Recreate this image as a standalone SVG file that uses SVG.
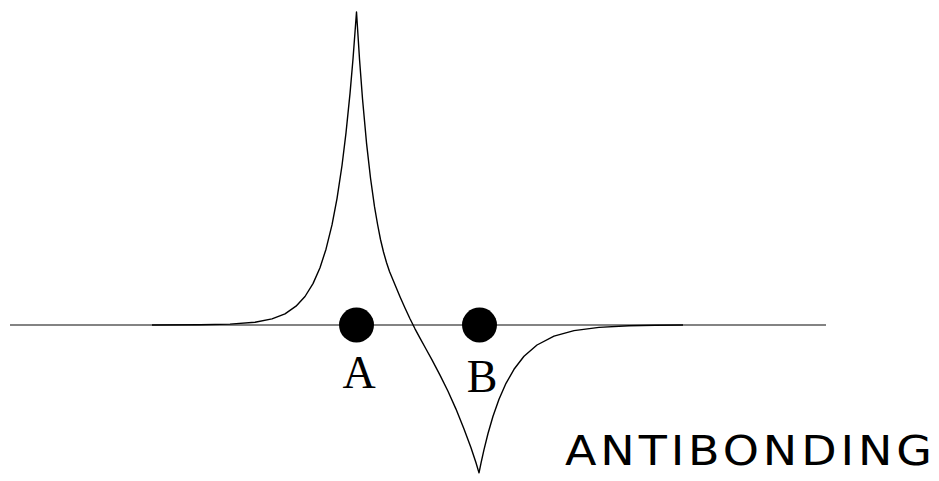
<svg xmlns="http://www.w3.org/2000/svg" width="939" height="481" viewBox="0 0 939 481">
  <style>
    .axis { stroke: #5a5a5a; stroke-width: 1.4; fill: none; }
    .curve { stroke: #000; stroke-width: 1.4; fill: none; stroke-linejoin: round; }
    .dot { fill: #000; }
    .lbl { font-family: "Liberation Serif", "Times New Roman", serif; font-size: 46px; fill: #000; text-anchor: middle; }
    .title { font-family: "DejaVu Sans", "Liberation Sans", sans-serif; font-size: 40px; fill: #000; }
  </style>
  <rect width="939" height="481" fill="#fff"/>
  <g id="axis">
    <line class="axis" x1="10" y1="325" x2="826" y2="325"/>
  </g>
  <g id="wavefunction">
    <polyline class="curve" points="152,325 200,324.8 230,324.1 255,322.2 272,318.9 285,313.8 296,306.2 305,296.5 313,283.6 320,267.7 326,249.2 332,224.9 337,198.6 342,165.5 346,132.9 350,93.6 353,59 356.5,12 359.5,59 362.5,98.7 366.5,142.8 370.5,178 374.5,206.7 377.5,224 380.5,239.5 383.5,252 386.5,262.5 389.5,271.5 395,284.75 400,296.65 405,308.05 410,318.8 415,328.8 420,338.2 426,349 432,359.9 440,375.1 448,391.3 456,409.1 464,428.9 471,447.7 476,462.7 479,472.9 481,463.1 484,449.6 488,433.5 493,416.3 499,399.2 506,383.3 514,369.3 524,356.3 537,345 554,336.1 574,330.6 599,327.4 629,325.8 655,325.2 683,325"/>
  </g>
  <g id="nodeA">
    <circle class="dot" cx="356.5" cy="325" r="17.5"/>
    <text class="lbl" x="359" y="388">A</text>
  </g>
  <g id="nodeB">
    <circle class="dot" cx="479.5" cy="325" r="17.5"/>
    <text class="lbl" x="482" y="391.5">B</text>
  </g>
  <g id="title" transform="translate(565,465) scale(1.15,1)">
    <text class="title" x="0" y="0" textLength="319" lengthAdjust="spacing">ANTIBONDING</text>
  </g>
</svg>
